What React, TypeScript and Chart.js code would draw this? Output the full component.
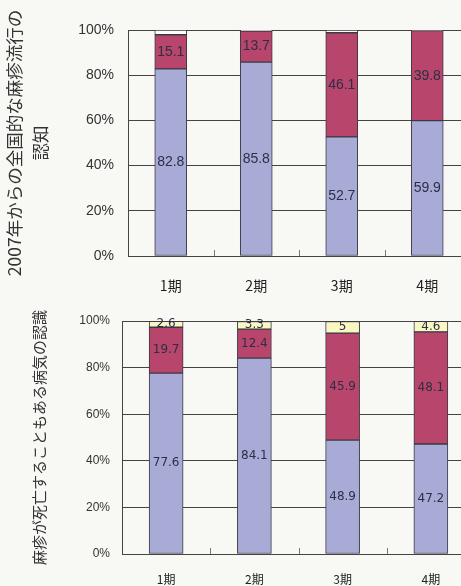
import React, { useEffect, useRef } from "react";
import { Chart, registerables } from "chart.js";

Chart.register(...registerables);

const categories = ["1期", "2期", "3期", "4期"];

// Top chart: 2007年からの全国的な麻疹流行の認知
const topBlue = [82.8, 85.8, 52.7, 59.9];
const topRed = [15.1, 13.7, 46.1, 39.8];
const topRest = [2.1, 0.5, 1.2, 0.3];

// Bottom chart: 麻疹が死亡することもある病気の認識
const botBlue = [77.6, 84.1, 48.9, 47.2];
const botRed = [19.7, 12.4, 45.9, 48.1];
const botYellow = [2.6, 3.3, 5, 4.6];

const yTicks = [0, 20, 40, 60, 80, 100];

const BG = "#f8f8f5";
const BLUE = "#a9abd7";
const RED = "#b8456b";
const YELLOW = "#f9f7c2";
const EDGE = "#3a3a45";

const labelPlugin = (fontSize: number, family: string, skip: number[]) => ({
  id: "segLabels",
  afterDatasetsDraw(chart: any) {
    const ctx = chart.ctx;
    ctx.save();
    ctx.font = `${fontSize}px ${family}`;
    ctx.fillStyle = "#2c2f45";
    ctx.textAlign = "center";
    ctx.textBaseline = "middle";
    chart.data.datasets.forEach((ds: any, di: number) => {
      if (skip.includes(di)) return;
      const meta = chart.getDatasetMeta(di);
      meta.data.forEach((el: any, i: number) => {
        const v = ds.data[i];
        const cy = (el.y + el.base) / 2;
        ctx.fillText(String(v), el.x, cy);
      });
    });
    ctx.restore();
  },
});

const tickPlugin = {
  id: "innerTicks",
  afterDraw(chart: any) {
    const x = chart.scales.x;
    const ctx = chart.ctx;
    const bottom = chart.chartArea.bottom;
    ctx.save();
    ctx.strokeStyle = "#777";
    ctx.lineWidth = 1;
    for (let i = 0; i < categories.length - 1; i++) {
      const px = (x.getPixelForValue(i) + x.getPixelForValue(i + 1)) / 2;
      ctx.beginPath();
      ctx.moveTo(Math.round(px) + 0.5, bottom);
      ctx.lineTo(Math.round(px) + 0.5, bottom - 6);
      ctx.stroke();
    }
    ctx.restore();
  },
};

function makeConfig(opts: {
  blue: number[];
  red: number[];
  rest: number[];
  restColor: string;
  title: string | string[];
  titleSize: number;
  titlePad: number;
  tickSize: number;
  xSize: number;
  labelSize: number;
  barThickness: number;
  axisWidth: number;
  axisHeight: number;
  padTop: number;
  xPad: number;
  yPad: number;
  skip: number[];
  labelFamily: string;
}) {
  const fam = "'Liberation Sans Narrow', 'Liberation Sans', Arial, sans-serif";
  const jp = "'Noto Sans CJK JP', sans-serif";
  return {
    type: "bar" as const,
    data: {
      labels: categories,
      datasets: [
        { data: opts.blue, backgroundColor: BLUE },
        { data: opts.red, backgroundColor: RED },
        { data: opts.rest, backgroundColor: opts.restColor },
      ].map((d) => ({
        ...d,
        borderColor: EDGE,
        borderWidth: 1,
        barThickness: opts.barThickness,
        borderSkipped: false,
      })),
    },
    options: {
      animation: false,
      responsive: false,
      devicePixelRatio: 1,
      layout: { padding: { top: opts.padTop, left: 0, right: 0, bottom: 0 } },
      plugins: { legend: { display: false }, tooltip: { enabled: false } },
      scales: {
        x: {
          stacked: true,
          grid: { display: false },
          border: { display: true, color: "#444", width: 1 },
          ticks: {
            color: "#222",
            padding: opts.xPad,
            font: { family: jp, size: opts.xSize },
          },
          afterFit(scale: any) {
            scale.height = opts.axisHeight;
          },
        },
        y: {
          stacked: true,
          min: 0,
          max: 100,
          afterBuildTicks(scale: any) {
            scale.ticks = yTicks.map((v) => ({ value: v }));
          },
          grid: { color: "#444", lineWidth: 1, drawTicks: false },
          border: { display: true, color: "#444", width: 1 },
          ticks: {
            color: "#333",
            padding: opts.yPad,
            font: { family: fam, size: opts.tickSize },
            callback: (v: any) => `${v}%`,
          },
          title: {
            display: true,
            text: opts.title,
            color: "#333",
            padding: { top: opts.titlePad, bottom: 0 },
            font: { family: jp, size: opts.titleSize, lineHeight: 1.5 },
          },
          afterFit(scale: any) {
            scale.width = opts.axisWidth;
          },
        },
      },
    },
    plugins: [labelPlugin(opts.labelSize, opts.labelFamily, opts.skip), tickPlugin],
  };
}

function BarChart(props: { config: any; width: number; height: number; top: number }) {
  const ref = useRef<HTMLCanvasElement>(null);
  useEffect(() => {
    if (!ref.current) return;
    const chart = new Chart(ref.current, props.config);
    return () => chart.destroy();
  }, []);
  return (
    <canvas
      ref={ref}
      width={props.width}
      height={props.height}
      style={{ position: "absolute", left: 0, top: props.top, width: props.width, height: props.height }}
    />
  );
}

export default function App() {
  const topConfig = makeConfig({
    blue: topBlue,
    red: topRed,
    rest: topRest,
    restColor: "#fdfdfb",
    title: ["2007年からの全国的な麻疹流行の", "認知"],
    titleSize: 17.5,
    titlePad: 1,
    tickSize: 14,
    xSize: 14,
    labelSize: 14,
    barThickness: 32,
    axisWidth: 128,
    axisHeight: 44,
    padTop: 30,
    xPad: 13,
    yPad: 14,
    skip: [2],
    labelFamily: "'Liberation Sans Narrow', 'Liberation Sans', Arial, sans-serif",
  });
  const botConfig = makeConfig({
    blue: botBlue,
    red: botRed,
    rest: botYellow,
    restColor: YELLOW,
    title: "麻疹が死亡することもある病気の認識",
    titleSize: 15,
    titlePad: 28,
    tickSize: 12,
    xSize: 12,
    labelSize: 12,
    barThickness: 34,
    axisWidth: 122,
    axisHeight: 32,
    padTop: 21,
    xPad: 10,
    yPad: 12,
    skip: [],
    labelFamily: "'DejaVu Sans', sans-serif",
  });
  return (
    <div
      style={{
        position: "fixed",
        left: 0,
        top: 0,
        width: 461,
        height: 586,
        overflow: "hidden",
        background: BG,
      }}
    >
      <BarChart config={topConfig} width={470} height={300} top={0} />
      <BarChart config={botConfig} width={475} height={286} top={300} />
    </div>
  );
}
